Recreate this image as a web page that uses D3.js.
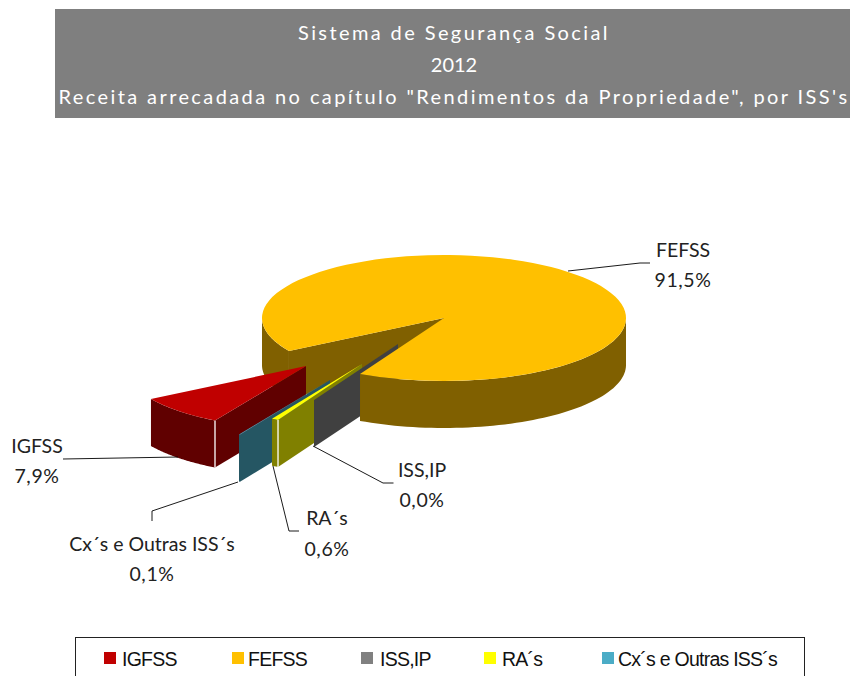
<!DOCTYPE html>
<html><head><meta charset="utf-8">
<script src="https://cdnjs.cloudflare.com/ajax/libs/d3/7.9.0/d3.min.js"></script>
<style>html,body{margin:0;padding:0;background:#fff}svg{display:block}</style>
</head><body><svg id="c" width="850" height="676"></svg>
<script>
const categories = ["IGFSS","FEFSS","ISS,IP","RA´s","Cx´s e Outras ISS´s"];
const legendLabels = ["IGFSS","FEFSS","ISS,IP","RA´s","Cx´s e Outras ISS´s"];
const values = [7.9,91.5,0.0,0.6,0.1];
const valueLabels = ["7,9%","91,5%","0,0%","0,6%","0,1%"];
const titleLines = ["Sistema de Segurança Social","2012","Receita arrecadada no capítulo \"Rendimentos da Propriedade\", por ISS's"];

const topColors = ["#C00000","#FFC000","#808080","#FFFF00","#4BACC6"];
const wallColors = ["#600000","#806000","#404040","#808000","#255663"];
const offX = [-138,0,-46,-82,-114];
const offY = [48,0,26,46,62];
const cx=444, cy=318, rx=182, ry=63, depth=47;
const rad=Math.PI/180, startDeg=210;

const svg=d3.select("#c");
const FONT="Lato, 'Open Sans', sans-serif";
svg.append("rect").attr("x",55).attr("y",9).attr("width",795).attr("height",109).attr("fill","#7F7F7F");
const titleY=[40,72,104], titleSp=[2.4,0,2.4];
svg.selectAll(".t").data(titleLines).join("text").attr("class","t")
  .attr("x",454).attr("y",(d,i)=>titleY[i]).attr("text-anchor","middle")
  .attr("fill","#fff").attr("font-family",FONT).attr("font-size",20)
  .attr("letter-spacing",(d,i)=>titleSp[i]).text(d=>d);

const arcs=d3.pie().sort(null).startAngle(startDeg*rad).endAngle((startDeg+360)*rad)(values);
const arcGen=d3.arc().innerRadius(0).outerRadius(rx);
const px=(i,a)=>cx+offX[i]+rx*Math.sin(a);
const py=(i,a)=>cy+offY[i]-ry*Math.cos(a);
const line=d3.line();

function cutWall(g,i,a){
  const ax=cx+offX[i],ay=cy+offY[i];
  g.append("path").attr("fill",wallColors[i])
   .attr("d",line([[ax,ay],[px(i,a),py(i,a)],[px(i,a),py(i,a)+depth],[ax,ay+depth]])+"Z");
}
function outerWall(g,i,a0,a1){
  if(a1<=a0) return;
  const n=60, pts=d3.range(n+1).map(k=>a0+(a1-a0)*k/n);
  const up=pts.map(a=>[px(i,a),py(i,a)]);
  const dn=pts.slice().reverse().map(a=>[px(i,a),py(i,a)+depth]);
  g.append("path").attr("fill",wallColors[i]).attr("d",line(up.concat(dn))+"Z");
}
function topFace(g,i,d){
  g.append("path").attr("fill",topColors[i])
   .attr("transform",`translate(${cx+offX[i]},${cy+offY[i]}) scale(1,${ry/rx})`)
   .attr("d",arcGen({startAngle:d.startAngle,endAngle:Math.max(d.endAngle,d.startAngle+0.0001)}));
}
function edge(g,i,a){
  g.append("path").attr("stroke","#fff").attr("stroke-width",1.3).attr("fill","none")
   .attr("d",line([[px(i,a),py(i,a)],[px(i,a),py(i,a)+depth]]));
}
const pie3d=svg.append("g");
const F=arcs[1];
cutWall(pie3d,1,F.startAngle);
outerWall(pie3d,1,F.startAngle,270*rad);
[0,4,3,2].forEach(i=>{
  const d=arcs[i], a0=((d.startAngle/rad)%360)*rad, a1=a0+(d.endAngle-d.startAngle);
  cutWall(pie3d,i,a0);
  outerWall(pie3d,i,a0,a1);
  if(i==0||i==3) edge(pie3d,i,a0);
  topFace(pie3d,i,{startAngle:a0,endAngle:a1});
});
outerWall(pie3d,1,90*rad,F.endAngle-360*rad);
topFace(pie3d,1,F);

const leaders=[
  [[63,459],[178,457]],
  [[568,271],[640,263],[650,263]],
  [[313,446],[383,483],[393.5,483]],
  [[273,466],[289,531],[299,531]],
  [[238,482],[152,511],[152,521]]
];
svg.selectAll(".l").data(leaders).join("path").attr("class","l")
  .attr("fill","none").attr("stroke","#000").attr("stroke-width",0.9).attr("d",d=>line(d));
const labelX=[37,683,422,327,152], nameY=[453,257,477,525,551], valY=[483,287,507,556,581];
const lab=svg.append("g").attr("font-family",FONT).attr("font-size",19.5).attr("fill","#222").attr("text-anchor","middle");
categories.forEach((c,i)=>{
  lab.append("text").attr("x",labelX[i]).attr("y",nameY[i]).text(c);
  lab.append("text").attr("x",labelX[i]).attr("y",valY[i]).attr("letter-spacing",0.6).text(valueLabels[i]);
});

svg.append("rect").attr("x",75.5).attr("y",637.5).attr("width",729).attr("height",50).attr("fill","#fff").attr("stroke","#222").attr("stroke-width",1);
const swX=[104,232,361,484,602], txtX=[122,248,380,502,618];
legendLabels.forEach((c,i)=>{
  svg.append("rect").attr("x",swX[i]).attr("y",652).attr("width",12).attr("height",12).attr("fill",topColors[i]);
  svg.append("text").attr("x",txtX[i]).attr("y",665.5).attr("font-family","'Liberation Sans',Arial,sans-serif")
    .attr("font-size",19.5).attr("letter-spacing",-0.75).attr("fill","#111").text(c);
});
</script></body></html>
